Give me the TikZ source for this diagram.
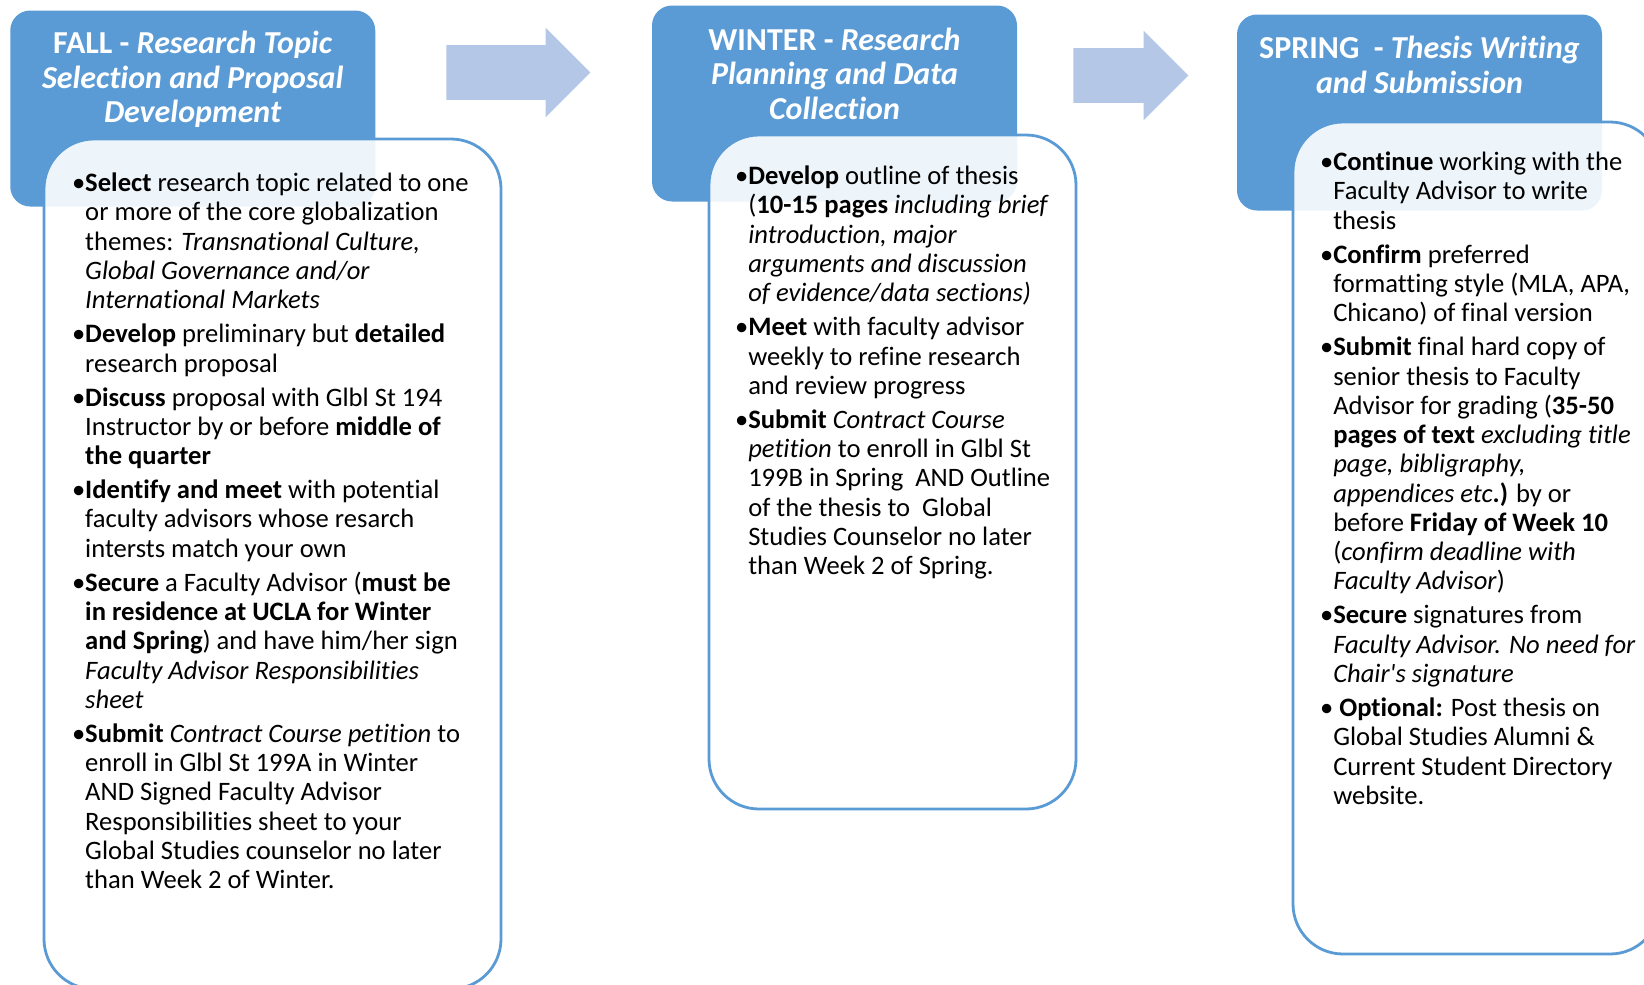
\documentclass[tikz,border=0pt]{standalone}
\usepackage{fontspec}
\setmainfont{Carlito}[Ligatures={NoCommon}]
\usetikzlibrary{positioning,shapes.arrows}
\definecolor{headblue}{RGB}{91,155,213}
\definecolor{arrowblue}{RGB}{180,199,231}
\tikzset{
	every node/.style={inner sep=0},
	head/.style={fill=headblue, rounded corners=10pt, minimum width=182.5pt, minimum height=98pt},
	headtext/.style={text=white, align=center, font=\fontsize{16}{17.25}\selectfont\bfseries},
	panel/.style={draw=headblue, line width=1.4pt, fill=white, fill opacity=0.9, rounded corners=25pt},
	bodytext/.style={align=left, font=\fontsize{13.3}{14.63}\selectfont},
	blockarrow/.style={shape=single arrow, fill=arrowblue, text height=27pt, text depth=0pt,
		single arrow head extend=8.75pt, anchor=tail}
}
\newcommand{\ind}{\phantom{•}}

\begin{document}
\begin{tikzpicture}[x=0.5pt,y=-0.5pt]
		\useasboundingbox (0,0) rectangle (1644,985);
		% season headers
		\node(fallhead)[head] at (192.75,108.5) {};
		\node(winterhead)[head] at (834.5,103.5) {};
		\node(springhead)[head] at (1419.5,112.5) {};
		\node(falltitle)[headtext, below=10.5pt of fallhead.north] {FALL - \textit{Research Topic}\\ \textit{Selection and Proposal}\\ \textit{Development}};
		\node(wintertitle)[headtext, below=11.2pt of winterhead.north] {WINTER - \textit{Research}\\ \textit{Planning and Data}\\ \textit{Collection}};
		\node(springtitle)[headtext, below=10.8pt of springhead.north] {SPRING\ \ - \textit{Thesis Writing}\\ \textit{and Submission}};
		
		% arrows between seasons
		\node(arrowone)[blockarrow, minimum height=72pt] at (446,72.5) {};
		\node(arrowtwo)[blockarrow, minimum height=57.5pt] at (1073,75.5) {};
		
		% task panels
		\node(fallbody)[panel, minimum width=228.5pt, minimum height=425pt] at (272.5,564) {};
		\node(winterbody)[panel, minimum width=183.5pt, minimum height=337pt] at (892.5,472) {};
		\node(springbody)[panel, minimum width=183.5pt, minimum height=416pt] at (1476.5,538) {};
		
		\node(falltasks)[bodytext, below right=17.5pt and 14.5pt of fallbody.north west] {%
			•\textbf{Select} research topic related to one\\
			\ind or more of the core globalization\\
			\ind themes: \textit{Transnational Culture,}\\
			\ind\textit{Global Governance and/or}\\
			\ind\textit{International Markets}\\[2.4pt]
			•\textbf{Develop} preliminary but \textbf{detailed}\\
			\ind research proposal\\[2.4pt]
			•\textbf{Discuss} proposal with Glbl St 194\\
			\ind Instructor by or before \textbf{middle of}\\
			\ind\textbf{the quarter}\\[2.4pt]
			•\textbf{Identify and meet} with potential\\
			\ind faculty advisors whose resarch\\
			\ind intersts match your own\\[2.4pt]
			•\textbf{Secure} a Faculty Advisor (\textbf{must be}\\
			\ind\textbf{in residence at UCLA for Winter}\\
			\ind\textbf{and Spring}) and have him/her sign\\
			\ind\textit{Faculty Advisor Responsibilities}\\
			\ind\textit{sheet}\\[2.4pt]
			•\textbf{Submit} \textit{Contract Course petition} to\\
			\ind enroll in Glbl St 199A in Winter\\
			\ind AND Signed Faculty Advisor\\
			\ind Responsibilities sheet to your\\
			\ind Global Studies counselor no later\\
			\ind than Week 2 of Winter.};
		\node(wintertasks)[bodytext, below right=16pt and 13.5pt of winterbody.north west] {%
			•\textbf{Develop} outline of thesis\\
			\ind(\textbf{10-15 pages} \textit{including brief}\\
			\ind\textit{introduction, major}\\
			\ind\textit{arguments and discussion}\\
			\ind\textit{of evidence/data sections)}\\[2.4pt]
			•\textbf{Meet} with faculty advisor\\
			\ind weekly to refine research\\
			\ind and review progress\\[2.4pt]
			•\textbf{Submit} \textit{Contract Course}\\
			\ind\textit{petition} to enroll in Glbl St\\
			\ind 199B in Spring~ AND Outline\\
			\ind of the thesis to~ Global\\
			\ind Studies Counselor no later\\
			\ind than Week 2 of Spring.};
		\node(springtasks)[bodytext, below right=15.5pt and 14pt of springbody.north west] {%
			•\textbf{Continue} working with the\\
			\ind Faculty Advisor to write\\
			\ind thesis\\[2.4pt]
			•\textbf{Confirm} preferred\\
			\ind formatting style (MLA, APA,\\
			\ind Chicano) of final version\\[2.4pt]
			•\textbf{Submit} final hard copy of\\
			\ind senior thesis to Faculty\\
			\ind Advisor for grading (\textbf{35-50}\\
			\ind\textbf{pages of text} \textit{excluding title}\\
			\ind\textit{page, bibligraphy,}\\
			\ind\textit{appendices etc}\textbf{.)} by or\\
			\ind before \textbf{Friday of Week 10}\\
			\ind(\textit{confirm deadline with}\\
			\ind\textit{Faculty Advisor})\\[2.4pt]
			•\textbf{Secure} signatures from\\
			\ind\textit{Faculty Advisor. No need for}\\
			\ind\textit{Chair\textquotesingle s signature}\\[2.4pt]
			• \textbf{Optional:} Post thesis on\\
			\ind Global Studies Alumni \&\\
			\ind Current Student Directory\\
			\ind website.};
\end{tikzpicture}
\end{document}
